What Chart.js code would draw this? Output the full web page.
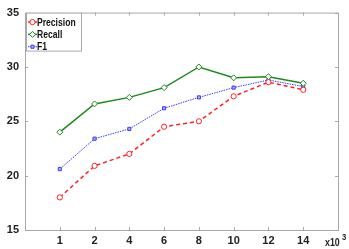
<!DOCTYPE html>
<html>
<head>
<meta charset="utf-8">
<script src="https://cdn.jsdelivr.net/npm/chart.js@4/dist/chart.umd.min.js"></script>
<style>
  html, body { margin: 0; padding: 0; background: #fff; }
  #chart { display: block; }
</style>
</head>
<body>
<canvas id="chart" width="349" height="249"></canvas>
<script>
// training size (x10^3)
const sizes = ['1', '2', '4', '6', '8', '10', '12', '14']
const precision = [18.0, 20.9, 22.0, 24.5, 25.0, 27.3, 28.6, 27.9]
const recall = [24.0, 26.6, 27.2, 28.1, 30.0, 29.0, 29.1, 28.5]
const f1 = [20.6, 23.4, 24.3, 26.2, 27.2, 28.1, 28.8, 28.2]
const yTicks = [15, 20, 25, 30, 35]

const FONT = "'Liberation Sans', Arial, sans-serif"

const toPoints = arr => arr.map((v, i) => ({ x: i + 1, y: v }))

// draw text squeezed horizontally (reference uses a narrow face)
function narrowText(ctx, text, x, y, sx) {
  ctx.save()
  ctx.translate(x, y)
  ctx.scale(sx, 1)
  ctx.fillText(text, 0, 0)
  ctx.restore()
}

// box around the plot with inward ticks, like a matlab figure
const framePlugin = {
  id: 'frame',
  afterDatasetsDraw(chart) {
    const { ctx, chartArea: a, scales } = chart
    ctx.save()
    ctx.strokeStyle = '#a8a8a8'
    ctx.lineWidth = 1
    ctx.strokeRect(a.left + 0.5, a.top + 0.5, a.right - a.left, a.bottom - a.top)
    ctx.beginPath()
    sizes.forEach((s, i) => {
      const x = Math.round(scales.x.getPixelForValue(i + 1)) + 0.5
      ctx.moveTo(x, a.bottom); ctx.lineTo(x, a.bottom - 3)
      ctx.moveTo(x, a.top); ctx.lineTo(x, a.top + 3)
    })
    yTicks.forEach(t => {
      const y = Math.round(scales.y.getPixelForValue(t)) + 0.5
      ctx.moveTo(a.left, y); ctx.lineTo(a.left + 3, y)
      ctx.moveTo(a.right, y); ctx.lineTo(a.right - 3, y)
    })
    ctx.stroke()

    // exponent label
    ctx.fillStyle = '#222'
    ctx.font = 'bold 11px ' + FONT
    ctx.textBaseline = 'middle'
    narrowText(ctx, 'x10', 325, 243, 0.8)
    ctx.font = 'bold 9px ' + FONT
    narrowText(ctx, '3', 342, 238, 0.85)
    ctx.restore()
  }
}

// legend box inside the top-left corner
const boxLegend = {
  id: 'boxLegend',
  afterDraw(chart) {
    const { ctx, chartArea: a } = chart
    const x0 = a.left + 1, y0 = a.top
    ctx.save()
    ctx.fillStyle = '#fff'
    ctx.fillRect(x0, y0, 55, 38)
    ctx.strokeStyle = '#a8a8a8'
    ctx.lineWidth = 1
    ctx.strokeRect(x0 + 0.5, y0 + 0.5, 55, 38)
    chart.data.datasets.forEach((ds, i) => {
      const y = y0 + 9.5 + i * 12.3
      ctx.strokeStyle = ds.borderColor
      ctx.lineWidth = ds.borderWidth
      ctx.setLineDash(ds.borderDash || [])
      ctx.beginPath()
      ctx.moveTo(x0 + 2, y); ctx.lineTo(x0 + 11, y)
      ctx.stroke()
      ctx.setLineDash([])
      ctx.fillStyle = ds.pointBackgroundColor
      ctx.lineWidth = 1
      Chart.helpers.drawPoint(ctx, {
        pointStyle: ds.pointStyle, radius: ds.pointRadius, borderWidth: 1, rotation: 0
      }, x0 + 6.5, y)
      ctx.fillStyle = '#111'
      ctx.font = 'bold 11px ' + FONT
      ctx.textBaseline = 'middle'
      narrowText(ctx, ds.label, x0 + 11, y + 0.5, 0.78)
    })
    ctx.restore()
  }
}

new Chart(document.getElementById('chart'), {
  type: 'line',
  data: {
    datasets: [
      {
        label: 'Precision',
        data: toPoints(precision),
        borderColor: '#ff2020',
        pointBackgroundColor: '#ffffff',
        borderWidth: 1.5,
        borderDash: [4, 3],
        pointStyle: 'circle',
        pointRadius: 2.6,
        pointBorderWidth: 1
      },
      {
        label: 'Recall',
        data: toPoints(recall),
        borderColor: '#1c8a1c',
        pointBackgroundColor: '#ffffff',
        borderWidth: 1.5,
        pointStyle: 'rectRot',
        pointRadius: 3,
        pointBorderWidth: 1
      },
      {
        label: 'F1',
        data: toPoints(f1),
        borderColor: '#3a3aff',
        pointBackgroundColor: '#b0b0ff',
        borderWidth: 1,
        borderDash: [1.5, 1],
        pointStyle: 'rect',
        pointRadius: 2.2,
        pointBorderWidth: 1
      }
    ]
  },
  options: {
    responsive: false,
    animation: false,
    layout: { padding: { top: 6, right: 11, left: 0, bottom: 0 } },
    plugins: {
      legend: { display: false },
      tooltip: { enabled: false }
    },
    scales: {
      x: {
        type: 'linear',
        min: 0,
        max: 9,
        afterFit: s => { s.height = 19 },
        afterBuildTicks: s => { s.ticks = sizes.map((_, i) => ({ value: i + 1 })) },
        grid: { display: false, drawTicks: false },
        border: { display: false },
        ticks: {
          padding: 4,
          color: '#222',
          font: { family: FONT, size: 11, weight: 'bold' },
          callback: v => sizes[v - 1] || ''
        }
      },
      y: {
        min: 15,
        max: 35,
        afterFit: s => { s.width = 25 },
        afterBuildTicks: s => { s.ticks = yTicks.map(v => ({ value: v })) },
        grid: { display: false, drawTicks: false },
        border: { display: false },
        ticks: {
          padding: 6,
          color: '#222',
          font: { family: FONT, size: 11, weight: 'bold' }
        }
      }
    }
  },
  plugins: [framePlugin, boxLegend]
})
</script>
</body>
</html>
